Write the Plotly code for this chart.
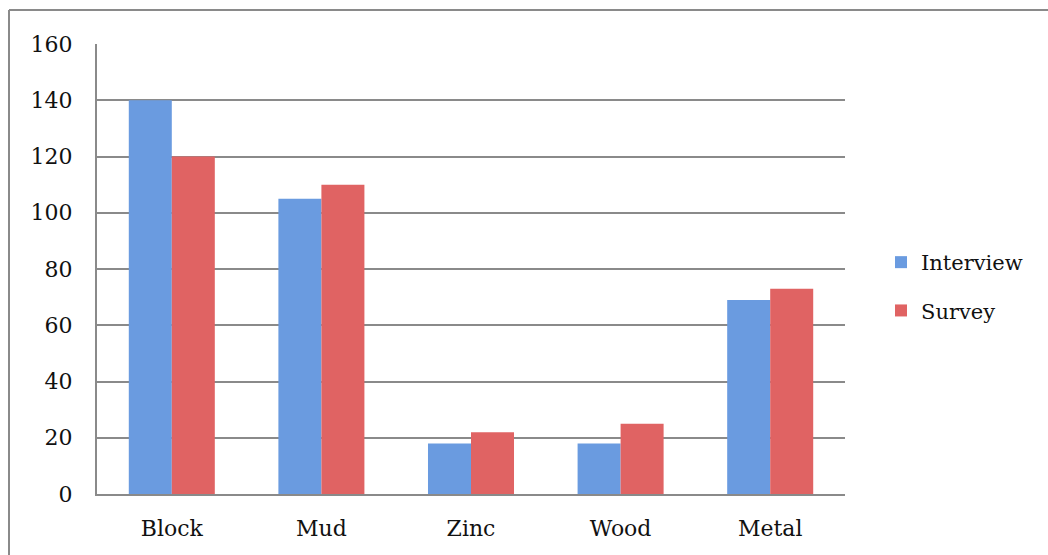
import plotly.graph_objects as go

categories = ["Block", "Mud", "Zinc", "Wood", "Metal"]
interview = [140, 105, 18, 18, 69]
survey = [120, 110, 22, 25, 73]
y_ticks = [0, 20, 40, 60, 80, 100, 120, 140, 160]

FONT = "DejaVu Serif"
GRID = "#8a8a8a"
FS = 22

fig = go.Figure()
fig.add_trace(go.Bar(name="Interview", x=categories, y=interview,
                     marker=dict(color="#6a9be0", line=dict(width=0)),
                     legendgroup="a"))
fig.add_trace(go.Bar(name="Survey", x=categories, y=survey,
                     marker=dict(color="#e06363", line=dict(width=0)),
                     legendgroup="b"))

L, R, T, B = 97, 203, 44, 61
W, H = 1048 - L - R, 555 - T - B

fig.update_layout(
    width=1048, height=555,
    margin=dict(l=L, r=R, t=T, b=B),
    paper_bgcolor="white", plot_bgcolor="white",
    barmode="group", bargap=0.425, bargroupgap=0,
    font=dict(family=FONT, size=FS, color="#111"),
    showlegend=True,
    legend=dict(x=(881 - L) / W, y=(494 - 242) / H, xanchor="left", yanchor="top",
                traceorder="grouped", tracegroupgap=18,
                font=dict(family=FONT, size=FS - 1, color="#111"),
                bgcolor="rgba(0,0,0,0)", itemwidth=30),
    xaxis=dict(showgrid=False, showline=True, linecolor=GRID, linewidth=2,
               ticks="", ticklabelstandoff=14, tickfont=dict(family=FONT, size=FS),
               zeroline=False, fixedrange=True),
    yaxis=dict(range=[0, 160], tickvals=y_ticks, showgrid=True, gridcolor=GRID,
               gridwidth=2, showline=True, linecolor=GRID, linewidth=2,
               ticks="", ticklabelstandoff=18, tickfont=dict(family=FONT, size=FS),
               zeroline=False),
)

# outer chart frame (top and left borders)
fig.add_shape(type="line", xref="paper", yref="paper",
              x0=(9 - L) / W, x1=(1050 - L) / W, y0=1 + (T - 10) / H, y1=1 + (T - 10) / H,
              line=dict(color="#8a8a8a", width=2))
fig.add_shape(type="line", xref="paper", yref="paper",
              x0=(9 - L) / W, x1=(9 - L) / W, y0=1 + (T - 10) / H, y1=-(560 - 494) / H,
              line=dict(color="#8a8a8a", width=2))

fig.write_html("out.html", config={"displayModeBar": False},
               post_script="document.body.style.margin='0px';document.body.style.overflow='hidden';")
